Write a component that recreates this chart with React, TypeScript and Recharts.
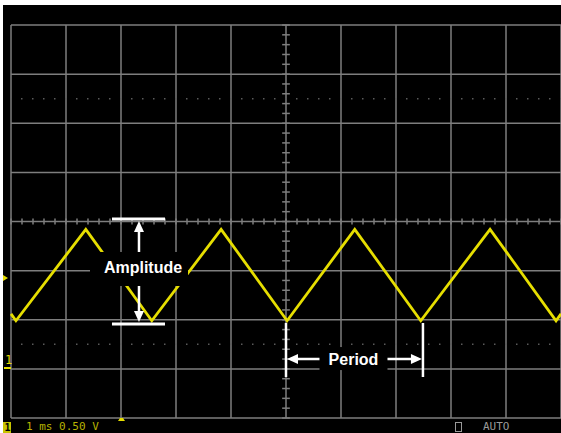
import { LineChart, Line, XAxis, YAxis, CartesianGrid, ReferenceLine, ReferenceDot } from 'recharts'

// scope trace, 1 ms/div, 0.50 V/div, ground marker 1 div above bottom
const timeMs = [0, 0.09, 1.36, 2.56, 3.82, 5.02, 6.25, 7.45, 8.71, 9.91, 10]
const volts = [0.56, 0.49, 1.42, 0.49, 1.42, 0.49, 1.42, 0.49, 1.42, 0.49, 0.56]

const xTicks = [0, 1, 2, 3, 4, 5, 6, 7, 8, 9, 10]
const yTicks = [-0.5, 0, 0.5, 1, 1.5, 2, 2.5, 3, 3.5]
const dottedLevels = [0.25, 2.75]
const centerTime = 5
const centerVolt = 1.5
const minorTimeTicks = Array.from({ length: 51 }, (_, i) => +(i * 0.2).toFixed(1))
const minorVoltTicks = Array.from({ length: 41 }, (_, i) => +(-0.5 + i * 0.1).toFixed(1))

// annotation anchors (ms, V)
const ampTop = 1.525
const ampBottom = 0.457
const ampBarX: [number, number] = [1.836, 2.8]
const ampArrowX = 2.327
const ampTipTop = 1.505
const ampTipBottom = 0.477
const ampLabel = { x: 2.4, y: 1.037, text: 'Amplitude' }
const periodStart = 5.0
const periodEnd = 7.49
const periodLineY: [number, number] = [0.467, -0.083]
const periodArrowY = 0.1
const periodLabel = { x: 6.227, y: 0.1, text: 'Period' }

const data = timeMs.map((t, i) => ({ t, v: volts[i] }))

const W = 561
const H = 433
const MARGIN = { top: 25, right: 0, bottom: 15, left: 11 }
const GRID = '#7e7e7e'
const TRACE = '#e6de00'
const WHITE = '#ffffff'
const LABEL_FONT = '"Liberation Sans", Arial, sans-serif'
const MONO = '"DejaVu Sans Mono", monospace'

function Arrow({ cx, cy, dir }: { cx?: number; cy?: number; dir: 'up' | 'down' | 'left' | 'right' }) {
  if (cx == null || cy == null) return null
  const l = 11
  const w = 5
  let d = ''
  if (dir === 'up') d = `M${cx},${cy} L${cx - w},${cy + l} L${cx + w},${cy + l} Z`
  if (dir === 'down') d = `M${cx},${cy} L${cx - w},${cy - l} L${cx + w},${cy - l} Z`
  if (dir === 'left') d = `M${cx},${cy} L${cx + l},${cy - w} L${cx + l},${cy + w} Z`
  if (dir === 'right') d = `M${cx},${cy} L${cx - l},${cy - w} L${cx - l},${cy + w} Z`
  return <path d={d} fill={WHITE} />
}

function LabelBox({ cx, cy, text, left, right, top, bottom }: any) {
  if (cx == null || cy == null) return null
  return (
    <g>
      <rect x={cx - left} y={cy - top} width={left + right} height={top + bottom} fill="#000" />
      <text x={cx} y={cy} dy="0.36em" textAnchor="middle" fill={WHITE} fontFamily={LABEL_FONT} fontWeight="bold" fontSize={16}>
        {text}
      </text>
    </g>
  )
}

function Axes() {
  return [
    <XAxis key="x" dataKey="t" type="number" domain={[0, 10]} ticks={xTicks} hide />,
    <YAxis key="y" type="number" domain={[-0.5, 3.5]} ticks={yTicks} hide />,
  ]
}

export default function App() {
  return (
    <div style={{ position: 'absolute', left: 0, top: 0, width: W, height: H, background: '#fff', overflow: 'hidden' }}>
      <div style={{ position: 'absolute', left: 3, top: 5, right: 0, bottom: 0, background: '#000' }} />

      {/* grid + trace */}
      <div style={{ position: 'absolute', left: 0, top: 0 }}>
        <LineChart width={W} height={H} data={data} margin={MARGIN}>
          {Axes()}
          <CartesianGrid stroke={GRID} strokeWidth={1.5} horizontalValues={yTicks} verticalValues={xTicks} />
          {dottedLevels.map((v) => (
            <ReferenceLine key={`dot-${v}`} y={v} stroke="#5a5a5a" strokeWidth={1.5} strokeDasharray="1.5 9.5" strokeDashoffset={1} />
          ))}
          {minorTimeTicks.map((t) => (
            <ReferenceLine
              key={`mt-${t}`}
              segment={[{ x: t, y: centerVolt - 0.03 }, { x: t, y: centerVolt + 0.03 }]}
              stroke={GRID}
              strokeWidth={1.5}
            />
          ))}
          {minorVoltTicks.map((v) => (
            <ReferenceLine
              key={`mv-${v}`}
              segment={[{ x: centerTime - 0.07, y: v }, { x: centerTime + 0.07, y: v }]}
              stroke={GRID}
              strokeWidth={1.5}
            />
          ))}
          <Line dataKey="v" type="linear" stroke={TRACE} strokeWidth={2.8} dot={false} isAnimationActive={false} />
        </LineChart>
      </div>

      {/* annotations */}
      <div style={{ position: 'absolute', left: 0, top: 0 }}>
        <LineChart width={W} height={H} data={data} margin={MARGIN}>
          {Axes()}
          <Line dataKey="v" stroke="none" dot={false} isAnimationActive={false} />
          <ReferenceLine segment={[{ x: ampBarX[0], y: ampTop }, { x: ampBarX[1], y: ampTop }]} stroke={WHITE} strokeWidth={3} />
          <ReferenceLine segment={[{ x: ampBarX[0], y: ampBottom }, { x: ampBarX[1], y: ampBottom }]} stroke={WHITE} strokeWidth={3} />
          <ReferenceLine segment={[{ x: ampArrowX, y: ampTipTop - 0.08 }, { x: ampArrowX, y: ampTipBottom + 0.08 }]} stroke={WHITE} strokeWidth={2.5} />
          <ReferenceDot x={ampArrowX} y={ampTipTop} r={0} shape={(p: any) => <Arrow cx={p.cx} cy={p.cy} dir="up" />} />
          <ReferenceDot x={ampArrowX} y={ampTipBottom} r={0} shape={(p: any) => <Arrow cx={p.cx} cy={p.cy} dir="down" />} />
          <ReferenceDot
            x={ampLabel.x}
            y={ampLabel.y}
            r={0}
            shape={(p: any) => <LabelBox cx={p.cx} cy={p.cy} text={ampLabel.text} left={53} right={45} top={15} bottom={19} />}
          />

          <ReferenceLine segment={[{ x: periodStart, y: periodLineY[0] }, { x: periodStart, y: periodLineY[1] }]} stroke={WHITE} strokeWidth={2.5} />
          <ReferenceLine segment={[{ x: periodEnd, y: periodLineY[0] }, { x: periodEnd, y: periodLineY[1] }]} stroke={WHITE} strokeWidth={2.5} />
          <ReferenceLine segment={[{ x: periodStart + 0.1, y: periodArrowY }, { x: periodEnd - 0.1, y: periodArrowY }]} stroke={WHITE} strokeWidth={2.5} />
          <ReferenceDot x={periodStart} y={periodArrowY} r={0} shape={(p: any) => <Arrow cx={p.cx + 1} cy={p.cy} dir="left" />} />
          <ReferenceDot x={periodEnd} y={periodArrowY} r={0} shape={(p: any) => <Arrow cx={p.cx - 1} cy={p.cy} dir="right" />} />
          <ReferenceDot
            x={periodLabel.x}
            y={periodLabel.y}
            r={0}
            shape={(p: any) => <LabelBox cx={p.cx} cy={p.cy} text={periodLabel.text} left={34} right={34} top={12} bottom={11} />}
          />
        </LineChart>
      </div>

      {/* scope markers and status line */}
      <svg width={W} height={H} style={{ position: 'absolute', left: 0, top: 0, pointerEvents: 'none' }}>
        <path d="M3,275 L8,278 L3,281 Z" fill={TRACE} />
        <text x={5} y={364} fill={TRACE} fontFamily={MONO} fontSize={12}>1</text>
        <rect x={4} y={367} width={7} height={2} fill={TRACE} />
        <path d="M118,421 L120,418 L123,418 L125,421 Z" fill={TRACE} />
        <rect x={3} y={422} width={8} height={11} fill="#c8c400" />
        <text x={4.5} y={431} fill="#000" fontFamily={MONO} fontSize={10} fontWeight="bold">1</text>
        <text x={26} y={430} fill="#b8b400" fontFamily={MONO} fontSize={11}>1 ms 0.50 V</text>
        <rect x={455.5} y={422.5} width={6} height={9} fill="none" stroke="#999" strokeWidth={1} />
        <text x={483} y={430} fill="#9a9a9a" fontFamily={MONO} fontSize={11}>AUTO</text>
      </svg>
    </div>
  )
}
